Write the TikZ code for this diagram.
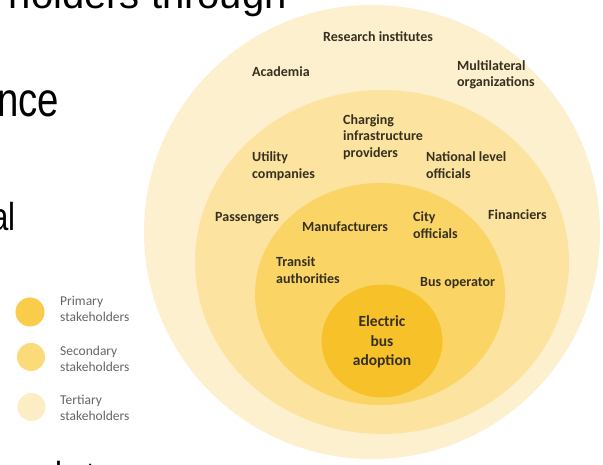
\documentclass[tikz,border=0pt]{standalone}
\usepackage{fontspec}
\setmainfont{Carlito}
\newfontfamily\arialf{Liberation Sans}
\definecolor{ter}{HTML}{FDF0CF}
\definecolor{sec}{HTML}{FCE3A0}
\definecolor{pri}{HTML}{FAD566}
\definecolor{core}{HTML}{F7C12A}
\definecolor{lpri}{HTML}{F9CC4A}
\definecolor{lsec}{HTML}{FBDA7A}
\definecolor{lter}{HTML}{FCEDC4}
\definecolor{labc}{HTML}{35301F}
\definecolor{legc}{HTML}{666666}
\begin{document}
\begin{tikzpicture}[x=1pt,y=-1pt,
  lab/.style={font=\bfseries\fontsize{14}{16.5}\selectfont, text=labc, inner sep=0pt, align=left, anchor=west},
  corelab/.style={font=\bfseries\fontsize{15.5}{19.5}\selectfont, text=labc, inner sep=0pt, align=center},
  leg/.style={font=\fontsize{13.5}{16}\selectfont, text=legc, inner sep=0pt, align=left, anchor=west},
  big/.style={text=black, inner sep=0pt, xscale=0.8}]
\useasboundingbox (0,0) rectangle (603,465);
\clip (0,0) rectangle (603,465);
\fill[white] (0,0) rectangle (603,465);
% background slide text fragments
\node[text=black, inner sep=0pt, anchor=base east, font=\arialf\fontsize{40}{44}\selectfont] (t1) at (287,9) {holders through};
\node[big, anchor=base east, font=\arialf\fontsize{48}{52}\selectfont] (t2) at (59.5,117) {nce};
\node[big, anchor=base east, font=\arialf\fontsize{39}{43}\selectfont] (t3) at (16,231) {al};
\node[big, anchor=base west, font=\arialf\fontsize{39}{43}\selectfont] (t4) at (55,489) {l\hspace{30pt}t};
% rings
\fill[ter] (372,232) ellipse [x radius=228, y radius=227];
\fill[sec] (382,262) ellipse [x radius=187, y radius=172];
\fill[pri] (380,294) ellipse [x radius=125, y radius=111];
\fill[core] (382,341) ellipse [x radius=60.5, y radius=56.5];
% labels
\node[lab] (ri) at (323,37) {Research institutes};
\node[lab] (ac) at (252,72) {Academia};
\node[lab] (mo) at (457,75) {Multilateral\\organizations};
\node[lab] (ci) at (343,137) {Charging\\infrastructure\\providers};
\node[lab] (uc) at (252,166) {Utility\\companies};
\node[lab] (nl) at (426,165) {National level\\officials};
\node[lab] (pa) at (215,218) {Passengers};
\node[lab] (ma) at (302,227) {Manufacturers};
\node[lab] (co) at (413,225) {City\\officials};
\node[lab] (fi) at (488,215) {Financiers};
\node[lab] (ta) at (276,270) {Transit\\authorities};
\node[lab] (bo) at (420,283) {Bus operator};
\node[corelab] (eb) at (382,342) {Electric\\bus\\adoption};
% legend
\fill[lpri] (30,312) circle [radius=14.5];
\fill[lsec] (31,357) circle [radius=14];
\fill[lter] (31.5,407) circle [radius=14];
\node[leg] (lp) at (60,309) {Primary\\stakeholders};
\node[leg] (ls) at (60,359) {Secondary\\stakeholders};
\node[leg] (lt) at (60,408) {Tertiary\\stakeholders};
\end{tikzpicture}
\end{document}
